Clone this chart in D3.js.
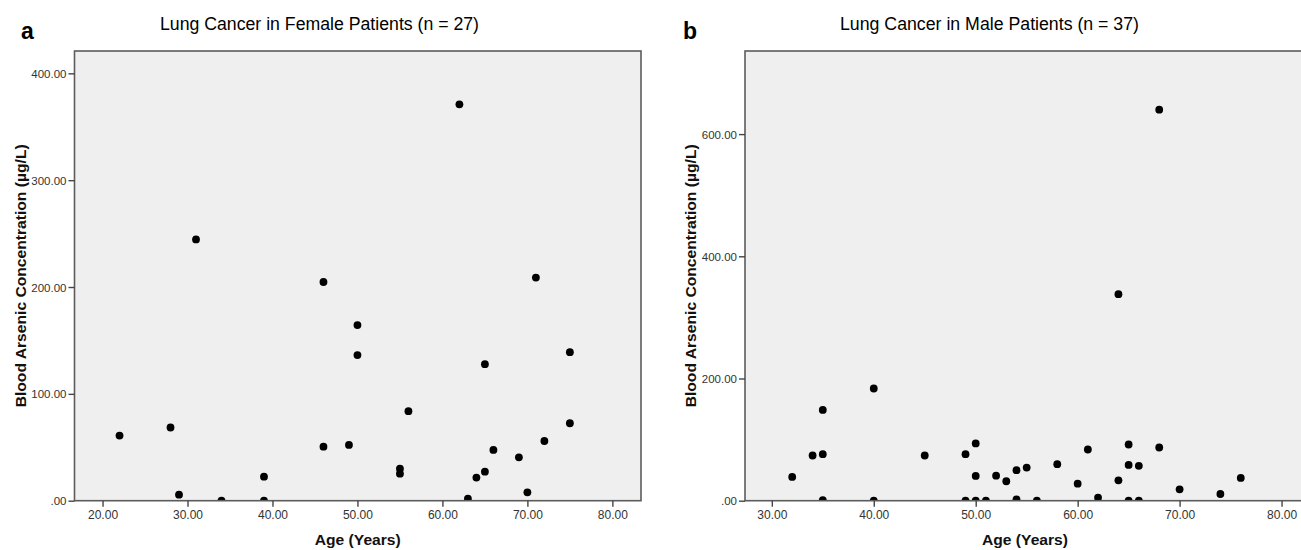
<!DOCTYPE html>
<html>
<head>
<meta charset="utf-8">
<script src="https://cdn.jsdelivr.net/npm/d3@7"></script>
<style>
  body { margin: 0; background: #fff; }
  svg { display: block; }
</style>
</head>
<body>
<svg id="chart" width="1301" height="550"></svg>
<script>
// values
const femaleAge = [22, 28, 29, 31, 34, 39, 39, 46, 46, 49, 50, 50, 55, 55, 56, 62, 63, 64, 65, 65, 66, 69, 70, 71, 72, 75, 75];
const femaleArsenic = [61, 68.5, 5.6, 244.5, 0, 22.5, 0, 204.7, 50.6, 52.2, 164.4, 136.3, 30, 25.3, 83.8, 371, 1.9, 21.6, 27.2, 127.8, 47.5, 40.6, 7.8, 208.8, 55.9, 139, 72.5];

const maleAge = [32, 34, 35, 35, 35, 40, 40, 45, 49, 49, 50, 50, 50, 51, 52, 53, 54, 54, 55, 56, 58, 60, 61, 62, 64, 64, 65, 65, 65, 66, 66, 68, 68, 70, 74, 76];
const maleArsenic = [38.9, 74, 76.2, 148.5, 1, 183.6, 0, 74, 76.2, 0, 93.7, 40.5, 0, 0, 41, 31.8, 49.9, 2.2, 54.2, 0, 59.7, 27.9, 83.8, 5, 338, 33.4, 92, 58.6, 0, 57, 0, 87.1, 640, 18.6, 11, 37.3];

const femaleXTicks = [20, 30, 40, 50, 60, 70, 80];
const femaleYTicks = [0, 100, 200, 300, 400];
const maleXTicks = [30, 40, 50, 60, 70, 80];
const maleYTicks = [0, 200, 400, 600];

const svg = d3.select("#chart");
const fmt = v => v === 0 ? ".00" : v.toFixed(2);

function panel(opt) {
  const x = d3.scaleLinear().domain(opt.xDomain).range([opt.left, opt.right]);
  const y = d3.scaleLinear().domain(opt.yDomain).range([opt.bottom, opt.top]);
  const g = svg.append("g");

  g.append("rect")
    .attr("x", opt.left).attr("y", opt.top)
    .attr("width", opt.right - opt.left).attr("height", opt.bottom - opt.top)
    .attr("fill", "#efefef");

  const clipId = "clip-" + opt.id;
  g.append("clipPath").attr("id", clipId)
    .append("rect")
    .attr("x", opt.left).attr("y", opt.top)
    .attr("width", opt.right - opt.left).attr("height", opt.bottom - opt.top);

  g.append("g").attr("clip-path", "url(#" + clipId + ")")
    .selectAll("circle")
    .data(opt.ages.map((a, i) => [a, opt.values[i]]))
    .join("circle")
    .attr("cx", d => x(d[0]))
    .attr("cy", d => y(d[1]))
    .attr("r", 3.9)
    .attr("fill", "#000");

  g.append("rect")
    .attr("x", opt.left).attr("y", opt.top)
    .attr("width", opt.right - opt.left).attr("height", opt.bottom - opt.top)
    .attr("fill", "none").attr("stroke", "#5c5c5c").attr("stroke-width", 1.6);

  const xAxis = g.append("g")
    .attr("transform", "translate(0," + opt.bottom + ")")
    .call(d3.axisBottom(x).tickValues(opt.xTicks).tickFormat(fmt).tickSize(6).tickPadding(4));
  const yAxis = g.append("g")
    .attr("transform", "translate(" + opt.left + ",0)")
    .call(d3.axisLeft(y).tickValues(opt.yTicks).tickFormat(fmt).tickSize(6).tickPadding(2));

  [xAxis, yAxis].forEach(a => {
    a.select(".domain").remove();
    a.selectAll(".tick line").attr("stroke", "#444").attr("stroke-width", 1.4);
    a.selectAll(".tick text")
      .attr("fill", "#333")
      .style("font-family", "'Liberation Sans', Arial, sans-serif");
  });
  xAxis.selectAll(".tick text").style("font-size", "12px");
  yAxis.selectAll(".tick text").style("font-size", "11.5px").attr("dy", "0.35em");

  g.append("text")
    .attr("x", opt.labelX).attr("y", 39)
    .style("font-family", "'Liberation Sans', Arial, sans-serif")
    .style("font-size", "23px").style("font-weight", "bold")
    .text(opt.label);

  g.append("text")
    .attr("x", opt.titleX).attr("y", 30)
    .attr("text-anchor", "middle")
    .attr("textLength", opt.titleLen).attr("lengthAdjust", "spacingAndGlyphs")
    .attr("fill", "#000")
    .style("font-family", "'Liberation Sans', Arial, sans-serif")
    .style("font-size", "17.5px")
    .text(opt.title);

  g.append("text")
    .attr("x", (opt.left + opt.right) / 2).attr("y", 545)
    .attr("text-anchor", "middle")
    .attr("textLength", 86).attr("lengthAdjust", "spacingAndGlyphs")
    .attr("fill", "#111")
    .style("font-family", "'Liberation Sans', Arial, sans-serif")
    .style("font-size", "15.5px").style("font-weight", "bold")
    .text("Age (Years)");

  g.append("text")
    .attr("transform", "translate(" + opt.yLabelX + "," + ((opt.top + opt.bottom) / 2) + ") rotate(-90)")
    .attr("text-anchor", "middle")
    .attr("textLength", 263).attr("lengthAdjust", "spacingAndGlyphs")
    .attr("fill", "#111")
    .style("font-family", "'Liberation Sans', Arial, sans-serif")
    .style("font-size", "14px").style("font-weight", "bold")
    .text("Blood Arsenic Concentration (\u00b5g/L)");
}

panel({
  id: "a", label: "a", labelX: 21,
  title: "Lung Cancer in Female Patients (n = 27)", titleX: 319.5, titleLen: 319,
  left: 74.5, right: 641, top: 51, bottom: 500.7,
  xDomain: [16.7, 83.37], yDomain: [0, 420.9],
  xTicks: femaleXTicks, yTicks: femaleYTicks,
  ages: femaleAge, values: femaleArsenic,
  yLabelX: 25.5
});

panel({
  id: "b", label: "b", labelX: 683,
  title: "Lung Cancer in Male Patients (n = 37)", titleX: 989.5, titleLen: 299,
  left: 745, right: 1305, top: 51, bottom: 500.7,
  xDomain: [27.37, 82.3], yDomain: [0, 736],
  xTicks: maleXTicks, yTicks: maleYTicks,
  ages: maleAge, values: maleArsenic,
  yLabelX: 695.5
});
</script>
</body>
</html>
